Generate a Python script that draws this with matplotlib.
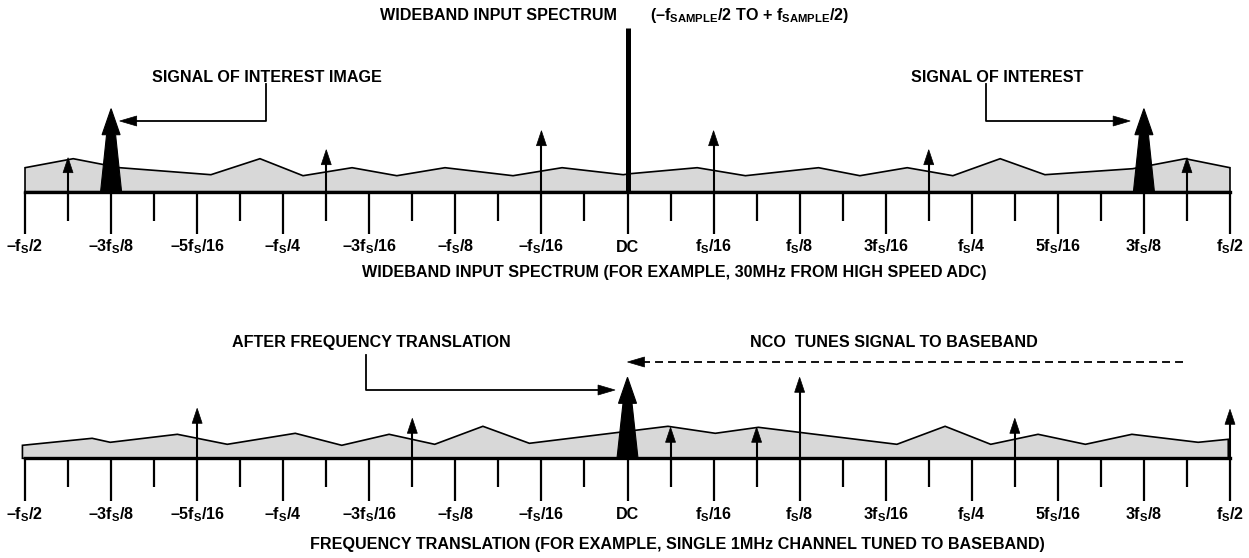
import matplotlib.pyplot as plt
import numpy as np
from matplotlib.patches import Polygon

plt.rcParams['font.family'] = ['Liberation Sans', 'DejaVu Sans']
plt.rcParams['font.weight'] = 'bold'
plt.rcParams['mathtext.fontset'] = 'custom'
plt.rcParams['mathtext.rm'] = 'Liberation Sans:bold'
plt.rcParams['mathtext.it'] = 'Liberation Sans:bold'
plt.rcParams['mathtext.bf'] = 'Liberation Sans:bold'

# x positions are in label steps (DC = 0, fs/2 = 7), y is level above the baseline
tick_labels = ['–f$_S$/2', '–3f$_S$/8', '–5f$_S$/16', '–f$_S$/4', '–3f$_S$/16', '–f$_S$/8',
               '–f$_S$/16', 'DC', 'f$_S$/16', 'f$_S$/8', '3f$_S$/16', 'f$_S$/4',
               '5f$_S$/16', '3f$_S$/8', 'f$_S$/2']
major_pos = np.arange(-7, 8)
minor_pos = np.arange(-6.5, 7.0, 1.0)

# top: wideband input spectrum
top_floor_u = [-7.0, -6.44, -5.9, -4.84, -4.27, -3.77, -3.2, -2.68, -2.12, -1.33, -0.76, -0.05,
               0.03, 0.81, 1.37, 2.22, 2.70, 3.25, 3.78, 4.33, 4.85, 5.87, 6.48, 7.0]
top_floor_lvl = [24, 33, 24, 17, 33, 16, 24, 16, 24, 16, 24, 17,
                 18, 24, 16, 24, 16, 24, 16, 33, 17, 23, 33, 24]
top_tone_u = [-6.5, -3.5, -1, 1, 3.5, 6.5]
top_tone_lvl = [34, 42, 61, 61, 42, 34]
top_signal_u = [-6, 6]
top_signal_lvl = [83, 83]
dc_line_lvl = 164

# bottom: after frequency translation
bot_floor_u = [-7.03, -6.22, -6.01, -5.23, -4.65, -3.86, -3.32, -2.77, -2.24, -1.68, -1.14,
               0.47, 1.02, 1.52, 3.13, 3.69, 4.22, 4.77, 5.32, 5.86, 6.63, 6.98]
bot_floor_lvl = [13, 20, 16, 24, 14, 25, 13, 24, 14, 32, 15,
                 32, 25, 31, 14, 32, 14, 24, 14, 24, 16, 19]
bot_tone_u = [-5, -2.5, 0.5, 1.5, 2, 4.5, 7]
bot_tone_lvl = [50, 40, 31, 31, 81, 40, 49]
bot_signal_u = [0]
bot_signal_lvl = [81]

PX = 86.07  # pixels per label step
FS = 11.6


def arrow_head(ax, tip_x, tip_y, direction, length=16, half=5):
    # direction: 'up', 'left', 'right'
    if direction == 'up':
        pts = [[tip_x - half / PX, tip_y - length], [tip_x + half / PX, tip_y - length], [tip_x, tip_y]]
    elif direction == 'left':
        pts = [[tip_x + length / PX, tip_y - half], [tip_x + length / PX, tip_y + half], [tip_x, tip_y]]
    else:
        pts = [[tip_x - length / PX, tip_y - half], [tip_x - length / PX, tip_y + half], [tip_x, tip_y]]
    ax.add_patch(Polygon(pts, closed=True, fc='k', ec='k', lw=0.5, zorder=5))


def tone(ax, u, lvl):
    ax.plot([u, u], [0, lvl - 14], color='k', lw=1.5, solid_capstyle='butt', zorder=4)
    arrow_head(ax, u, lvl, 'up', length=15, half=5)


def signal(ax, u, lvl):
    h = 26
    pts = [[u - 10.5 / PX, 0], [u - 4.5 / PX, lvl - h], [u - 9 / PX, lvl - h], [u, lvl],
           [u + 9 / PX, lvl - h], [u + 4.5 / PX, lvl - h], [u + 10.5 / PX, 0]]
    ax.add_patch(Polygon(pts, closed=True, fc='k', ec='k', lw=0.8, zorder=4))


def spectrum(ax, floor_u, floor_lvl, major_len, minor_len, label_lvl):
    xs = [floor_u[0]] + list(floor_u) + [floor_u[-1]]
    ys = [0] + list(floor_lvl) + [0]
    ax.fill(xs, ys, facecolor='#d8d8d8', edgecolor='k', lw=1.2, zorder=1)
    ax.plot([-7, 7], [0, 0], color='k', lw=2.4, solid_capstyle='projecting', zorder=6)
    ax.vlines(major_pos, -major_len, 0, color='k', lw=1.6, zorder=6)
    ax.vlines(minor_pos, -minor_len, 0, color='k', lw=1.6, zorder=6)
    for p, lab in zip(major_pos, tick_labels):
        ax.text(p, label_lvl, lab, ha='center', va='baseline', fontsize=FS, fontweight='bold')


fig = plt.figure(figsize=(12.49, 5.58), dpi=100)
ax1 = fig.add_axes([0, 1 - 300 / 558, 1, 300 / 558])
ax2 = fig.add_axes([0, 0, 1, 258 / 558])
ax1.set_xlim(-627.5 / PX, (1249 - 627.5) / PX)
ax2.set_xlim(-627.5 / PX, (1249 - 627.5) / PX)
ax1.set_ylim(-108.3, 191.7)
ax2.set_ylim(-99.7, 158.3)
for ax in (ax1, ax2):
    ax.axis('off')

# ---- top panel
spectrum(ax1, top_floor_u, top_floor_lvl, 42, 29, -60)
for u, l in zip(top_tone_u, top_tone_lvl):
    tone(ax1, u, l)
for u, l in zip(top_signal_u, top_signal_lvl):
    signal(ax1, u, l)
ax1.plot([0, 0], [0, dc_line_lvl], color='k', lw=3.6, solid_capstyle='butt', zorder=5)

ax1.text(-0.12, 171.7, 'WIDEBAND INPUT SPECTRUM', ha='right', va='baseline', fontsize=FS)
ax1.text(0.26, 171.7, '(–f$_{SAMPLE}$/2 TO + f$_{SAMPLE}$/2)', ha='left', va='baseline', fontsize=FS)
ax1.text(0.54, -85.6, 'WIDEBAND INPUT SPECTRUM (FOR EXAMPLE, 30MHz FROM HIGH SPEED ADC)',
         ha='center', va='baseline', fontsize=FS)

# callouts
ax1.text(-4.19, 110, 'SIGNAL OF INTEREST IMAGE', ha='center', va='baseline', fontsize=FS)
ax1.plot([-4.20, -4.20, -5.90 + 16 / PX], [107.7, 70.7, 70.7], color='k', lw=1.3, zorder=5)
arrow_head(ax1, -5.90, 70.7, 'left', length=17, half=5)

ax1.text(4.29, 110, 'SIGNAL OF INTEREST', ha='center', va='baseline', fontsize=FS)
ax1.plot([4.16, 4.16, 5.84 - 16 / PX], [107.7, 70.7, 70.7], color='k', lw=1.3, zorder=5)
arrow_head(ax1, 5.84, 70.7, 'right', length=17, half=5)

# ---- bottom panel
spectrum(ax2, bot_floor_u, bot_floor_lvl, 43, 29, -61)
for u, l in zip(bot_tone_u, bot_tone_lvl):
    tone(ax2, u, l)
for u, l in zip(bot_signal_u, bot_signal_lvl):
    signal(ax2, u, l)

ax2.text(0.58, -91, 'FREQUENCY TRANSLATION (FOR EXAMPLE, SINGLE 1MHz CHANNEL TUNED TO BASEBAND)',
         ha='center', va='baseline', fontsize=FS)

ax2.text(-2.97, 111, 'AFTER FREQUENCY TRANSLATION', ha='center', va='baseline', fontsize=FS)
ax2.plot([-3.04, -3.04, -0.145 - 16 / PX], [103.3, 68.3, 68.3], color='k', lw=1.3, zorder=5)
arrow_head(ax2, -0.145, 68.3, 'right', length=17, half=5)

ax2.text(3.09, 111, 'NCO  TUNES SIGNAL TO BASEBAND', ha='center', va='baseline', fontsize=FS)
ax2.plot([6.45, 0.0 + 16 / PX], [96.3, 96.3], color='k', lw=1.3, linestyle=(0, (4.4, 2.8)), zorder=5)
arrow_head(ax2, 0.0, 96.3, 'left', length=17, half=5)

fig.savefig('out.png', dpi=100)
